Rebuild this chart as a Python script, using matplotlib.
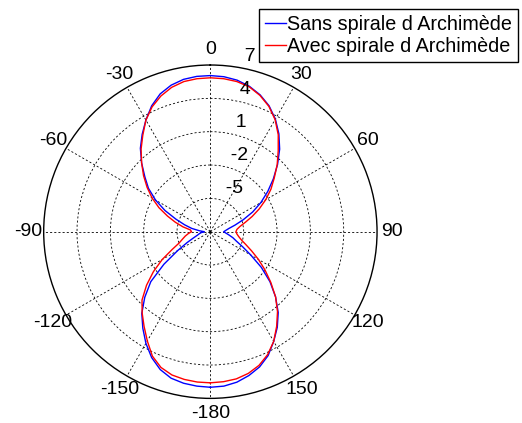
import numpy as np
import matplotlib
matplotlib.use("Agg")
import matplotlib.pyplot as plt

plt.rcParams['font.family'] = ['Liberation Sans', 'DejaVu Sans']

# angles in degrees (0 = north, clockwise), 5 degree steps from -180 to 180
angles = list(range(-180, 181, 5))

sans_spirale = [6.0, 5.95, 5.85, 5.65, 5.2, 4.5, 3.6, 2.6, 1.6, 0.35,
                -1.0, -2.9, -4.6, -5.7, -6.4, -6.8, -7.0, -7.2, -7.45,
                -7.0, -6.3, -5.6, -4.7, -3.5, -2.3, -1.2, -0.3, 0.75,
                1.8, 2.7, 3.6, 4.5, 5.2, 5.65, 5.92, 6.03, 6.05,
                6.0, 5.85, 5.55, 5.1, 4.5, 3.7, 2.75, 1.7, 0.55,
                -0.6, -1.7, -2.75, -3.8, -4.85, -5.7, -6.3, -6.6, -6.8,
                -6.6, -6.3, -5.9, -5.5, -4.8, -3.8, -2.4, -1.0, 0.3,
                1.5, 2.5, 3.4, 4.3, 4.95, 5.4, 5.75, 5.95, 6.0]

avec_spirale = [5.6, 5.58, 5.5, 5.35, 5.0, 4.35, 3.35, 2.4, 1.55, 0.7,
                -0.5, -1.75, -3.0, -4.2, -5.0, -5.4, -5.7, -6.0, -6.3,
                -6.2, -5.5, -4.75, -3.9, -2.9, -1.95, -1.05, -0.15, 0.75,
                1.7, 2.6, 3.6, 4.4, 5.0, 5.45, 5.72, 5.82, 5.85,
                5.82, 5.72, 5.5, 5.05, 4.45, 3.65, 2.65, 1.5, 0.5,
                -0.5, -1.35, -2.25, -3.15, -4.0, -4.75, -5.3, -5.6, -5.7,
                -5.6, -5.4, -5.1, -4.6, -3.9, -3.0, -2.0, -0.9, 0.3,
                1.4, 2.4, 3.4, 4.2, 4.8, 5.2, 5.45, 5.55, 5.6]

r_ticks = [-5, -2, 1, 4, 7]
theta_ticks = [0, 30, 60, 90, 120, 150, 180, 210, 240, 270, 300, 330]
theta_labels = ['0', '30', '60', '90', '120', '150', '-180', '-150', '-120', '-90', '-60', '-30']

fig = plt.figure(figsize=(5.22, 4.23), dpi=100)
ax = fig.add_axes([0.0834, 0.0582, 0.6392, 0.7881], projection='polar')
ax.set_theta_zero_location('N')
ax.set_theta_direction(-1)
ax.set_ylim(-8, 7)

th = np.deg2rad(angles)
ax.plot(th, sans_spirale, color='#0000ff', lw=1.0, label='Sans spirale d Archimède')
ax.plot(th, avec_spirale, color='#ff0000', lw=1.0, label='Avec spirale d Archimède')

ax.set_rticks(r_ticks[:-1])
ax.set_yticklabels([])
ax.set_thetagrids(theta_ticks, theta_labels, fontsize=14)
ax.tick_params(axis='x', pad=0.5)
ax.grid(True, color='black', linestyle=(0, (2.5, 2.5)), linewidth=0.6)
ax.spines['polar'].set_color('black')
ax.spines['polar'].set_linewidth(1.0)

for r in r_ticks:
    ax.text(np.deg2rad(8), r + 0.15, '  ' + str(r), fontsize=14,
            ha='left', va='bottom')

fig.legend(loc='upper right', bbox_to_anchor=(518 / 522, 1 - 9 / 423),
           prop={'size': 14.2}, frameon=True, fancybox=False, edgecolor='black',
           framealpha=1, borderpad=0.3, borderaxespad=0, handlelength=1.1,
           handletextpad=0.05, labelspacing=0.15)

fig.savefig('out.png', dpi=100)
